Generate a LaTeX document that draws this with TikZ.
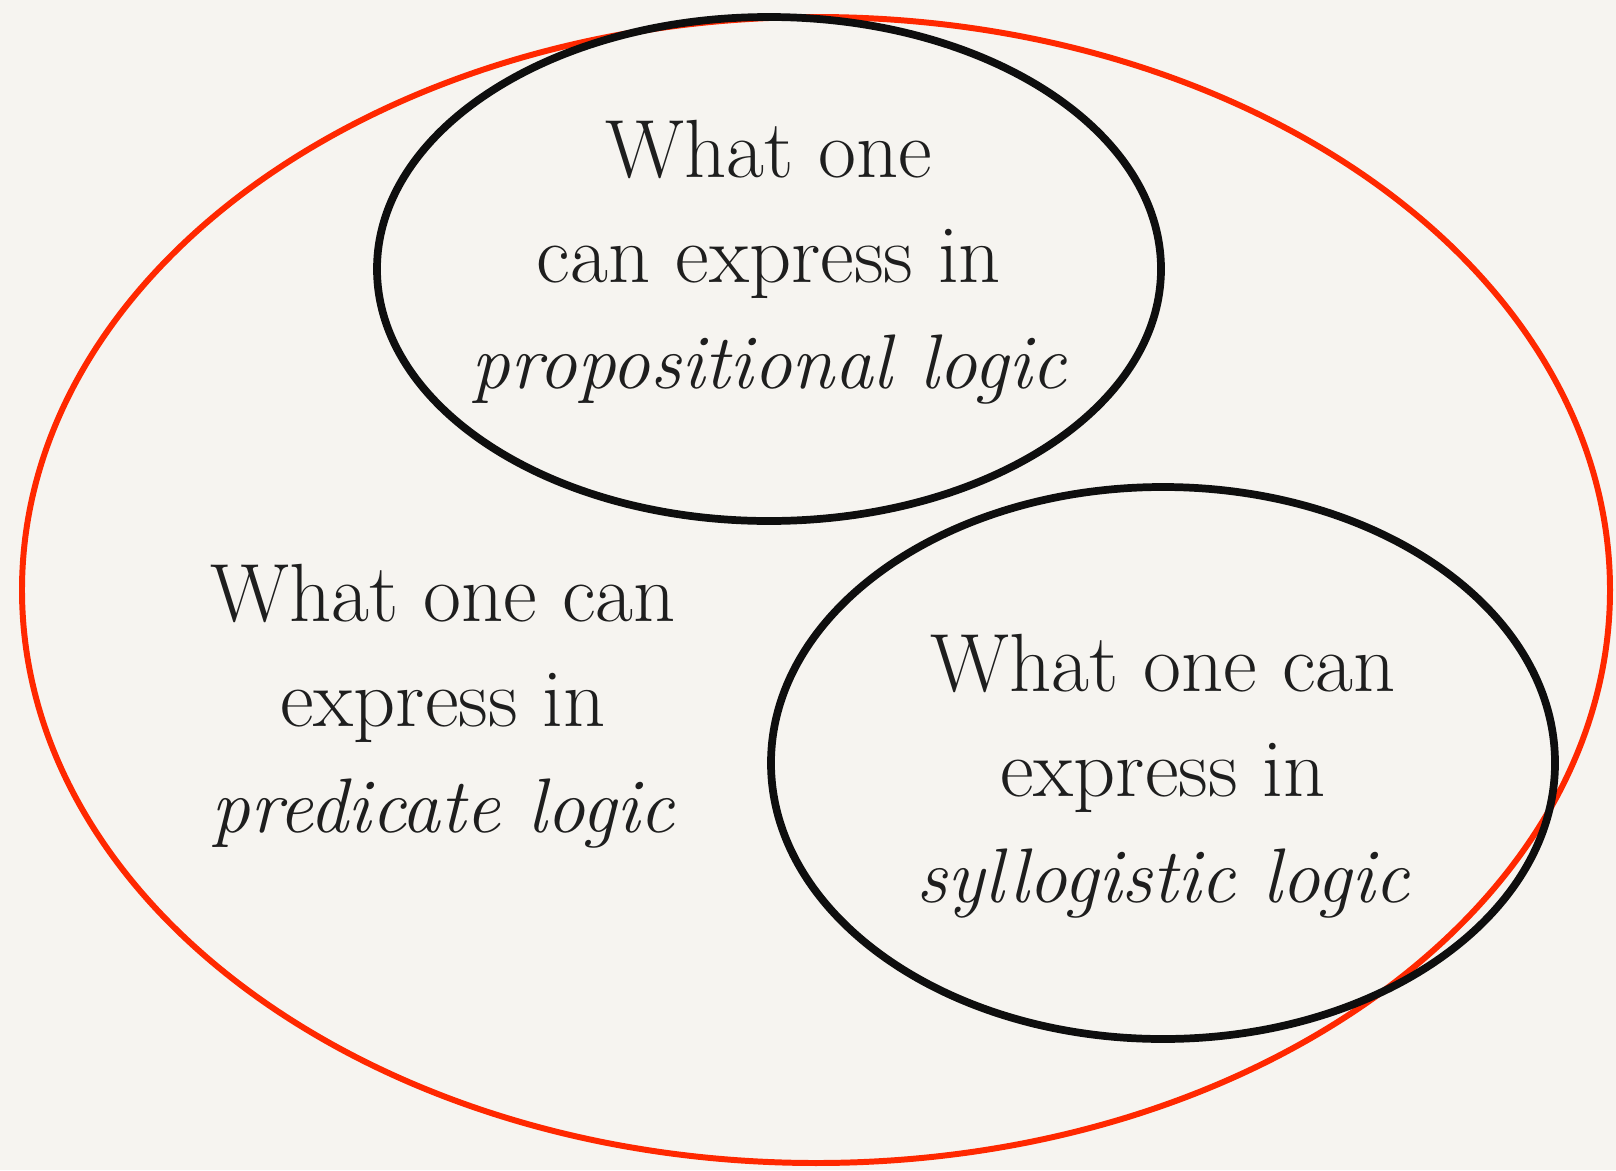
\documentclass[tikz,border=0pt]{standalone}
\usepackage{tikz}
\usetikzlibrary{positioning}
\definecolor{vennred}{RGB}{255,40,0}
\definecolor{vennink}{RGB}{14,14,14}
\definecolor{venntext}{RGB}{30,30,30}
\definecolor{vennpaper}{RGB}{246,244,240}

\begin{document}
\begin{tikzpicture}[x=0.02cm, y=-0.02cm,
      outerring/.style={draw=vennred, line width=3.4pt},
      innerring/.style={draw=vennink, line width=4.4pt},
      settext/.style={align=center, text=venntext, inner sep=0pt, font=\fontsize{47}{60}\selectfont}
    ]
      \fill[vennpaper] (0,0) rectangle (1616,1170);
      \useasboundingbox (0,0) rectangle (1616,1170);

      % Predicate logic (outer ring)
      \draw[outerring] (816,590) ellipse [x radius=794, y radius=573];

      % Propositional and syllogistic logic
      \draw[innerring] (769,269) ellipse [x radius=392, y radius=252];
      \draw[innerring] (1163,763) ellipse [x radius=392, y radius=276];

      % Labels
      \node[settext] (prop) at (769,262) {What one\\can express in\\{\fontsize{44}{60}\selectfont\itshape propositional logic}};
      \node[settext] (pred) at (443,706) {What one can\\express in\\{\fontsize{44}{60}\selectfont\itshape predicate logic}};
      \node[settext] (syll) at (1163,776) {What one can\\express in\\{\fontsize{44}{60}\selectfont\itshape syllogistic logic}};
    \end{tikzpicture}
\end{document}
